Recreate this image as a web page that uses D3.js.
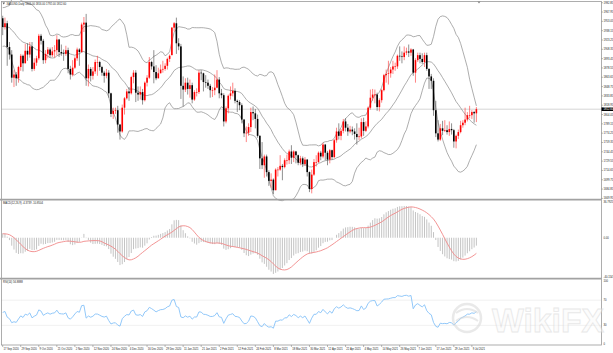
<!DOCTYPE html>
<html>
<head>
<meta charset="utf-8">
<script src="https://cdn.jsdelivr.net/npm/d3@7"></script>
<style>
  body { margin: 0; background: #fff; }
  svg { display: block; font-family: "Liberation Sans", Arial, sans-serif; }
  .lbl { font-size: 2.7px; fill: #222; }
</style>
</head>
<body>
<div id="chart"></div>
<script>
// closes from 1 Jul to 16 Sep 2020, only used to warm up the indicators
const warmupClose = [
  1770, 1775, 1775, 1784, 1795, 1809, 1803, 1798, 1802, 1810, 1807, 1796, 1810, 1818, 1843, 1871, 1888, 1902, 1941, 1957, 1970, 1956, 1975,
  1976, 2019, 2038, 2062, 2035, 2028, 1911, 1915, 1954, 1944, 1985, 2002, 1929, 1946, 1940, 1929, 1907, 1953, 1929, 1964, 1968,
  1970, 1944, 1930, 1934, 1931, 1932, 1946, 1946, 1940, 1957, 1955, 1961
];

// daily bars from 17 Sep 2020 to 13 Jul 2021
const openPrice = [
  1958, 1944, 1950, 1912, 1900, 1863, 1868, 1862, 1880, 1898,
  1886, 1906, 1900, 1913, 1877, 1887, 1894, 1930, 1922, 1891,
  1901, 1908, 1899, 1905, 1907, 1924, 1904, 1902, 1901, 1907,
  1877, 1868, 1879, 1894, 1908, 1904, 1948, 1951, 1862, 1877,
  1866, 1873, 1888, 1888, 1880, 1871, 1866, 1871, 1838, 1805,
  1810, 1811, 1788, 1777, 1815, 1830, 1841, 1838, 1864, 1871,
  1839, 1836, 1840, 1827, 1855, 1863, 1888, 1881, 1872, 1862,
  1870, 1876, 1877, 1882, 1893, 1899, 1943, 1950, 1918, 1913,
  1850, 1844, 1855, 1845, 1851, 1828, 1840, 1840, 1871, 1870,
  1856, 1855, 1850, 1843, 1843, 1847, 1860, 1838, 1835, 1793,
  1814, 1834, 1838, 1842, 1826, 1824, 1819, 1796, 1774, 1775,
  1784, 1808, 1806, 1797, 1770, 1734, 1723, 1737, 1712, 1698,
  1700, 1683, 1716, 1716, 1722, 1720, 1731, 1731, 1745, 1735,
  1745, 1739, 1727, 1734, 1725, 1732, 1712, 1685, 1708, 1728,
  1728, 1743, 1737, 1756, 1743, 1732, 1747, 1736, 1763, 1777,
  1770, 1778, 1793, 1783, 1777, 1780, 1777, 1773, 1768, 1769,
  1792, 1778, 1785, 1815, 1831, 1836, 1836, 1816, 1827, 1843,
  1867, 1869, 1870, 1876, 1881, 1881, 1898, 1897, 1896, 1903,
  1905, 1903, 1908, 1871, 1891, 1899, 1893, 1888, 1899, 1877,
  1865, 1858, 1811, 1774, 1764, 1782, 1778, 1779, 1776, 1781,
  1779, 1761, 1770, 1776, 1787, 1791, 1796, 1803, 1803, 1808, 1806
];
const highPrice = [
  1962, 1959, 1954, 1920, 1907, 1875, 1872, 1882, 1901, 1900,
  1917, 1918, 1920, 1920, 1894, 1898, 1933, 1933, 1925, 1907,
  1912, 1911, 1912, 1915, 1931, 1925, 1916, 1908, 1914, 1911,
  1882, 1891, 1897, 1911, 1910, 1951, 1960, 1965, 1884, 1880,
  1880, 1892, 1898, 1890, 1882, 1874, 1877, 1875, 1839, 1815,
  1815, 1818, 1789, 1820, 1832, 1845, 1848, 1866, 1875, 1875,
  1849, 1849, 1845, 1857, 1867, 1896, 1890, 1907, 1883, 1879,
  1884, 1890, 1886, 1895, 1900, 1944, 1952, 1959, 1926, 1917,
  1865, 1862, 1863, 1860, 1855, 1843, 1846, 1875, 1875, 1871,
  1867, 1860, 1853, 1848, 1868, 1875, 1864, 1845, 1838, 1817,
  1836, 1849, 1855, 1846, 1828, 1827, 1822, 1797, 1785, 1790,
  1815, 1817, 1813, 1804, 1771, 1760, 1740, 1740, 1715, 1710,
  1702, 1718, 1720, 1739, 1725, 1734, 1740, 1748, 1755, 1747,
  1746, 1740, 1738, 1737, 1736, 1733, 1713, 1716, 1733, 1739,
  1745, 1746, 1759, 1757, 1746, 1749, 1748, 1765, 1783, 1790,
  1781, 1797, 1798, 1789, 1786, 1785, 1782, 1790, 1783, 1798,
  1799, 1793, 1817, 1844, 1845, 1844, 1839, 1830, 1845, 1869,
  1876, 1890, 1880, 1890, 1887, 1900, 1913, 1905, 1913, 1911,
  1916, 1910, 1909, 1894, 1903, 1903, 1902, 1903, 1903, 1878,
  1869, 1862, 1826, 1795, 1789, 1794, 1795, 1787, 1793, 1790,
  1781, 1772, 1780, 1794, 1795, 1815, 1808, 1818, 1811, 1810, 1816
];
const lowPrice = [
  1931, 1940, 1882, 1892, 1855, 1848, 1850, 1855, 1874, 1873,
  1886, 1890, 1895, 1873, 1874, 1882, 1891, 1916, 1885, 1886,
  1894, 1895, 1896, 1895, 1899, 1896, 1898, 1890, 1898, 1870,
  1860, 1865, 1877, 1890, 1882, 1903, 1936, 1850, 1849, 1857,
  1860, 1869, 1866, 1874, 1866, 1855, 1862, 1831, 1800, 1797,
  1805, 1775, 1764, 1775, 1804, 1828, 1826, 1836, 1854, 1824,
  1826, 1828, 1820, 1825, 1849, 1861, 1876, 1854, 1859, 1862,
  1870, 1871, 1874, 1876, 1888, 1899, 1937, 1901, 1907, 1829,
  1817, 1840, 1836, 1831, 1822, 1826, 1833, 1837, 1859, 1841,
  1847, 1845, 1831, 1832, 1835, 1846, 1830, 1830, 1785, 1790,
  1806, 1828, 1833, 1822, 1808, 1811, 1790, 1768, 1760, 1770,
  1776, 1795, 1782, 1767, 1717, 1717, 1703, 1705, 1690, 1687,
  1677, 1683, 1705, 1714, 1699, 1718, 1724, 1725, 1725, 1728,
  1726, 1723, 1723, 1720, 1722, 1705, 1680, 1678, 1706, 1721,
  1727, 1731, 1734, 1731, 1723, 1726, 1732, 1734, 1759, 1764,
  1763, 1774, 1777, 1770, 1774, 1771, 1764, 1756, 1763, 1766,
  1770, 1776, 1782, 1812, 1826, 1822, 1810, 1809, 1823, 1841,
  1855, 1852, 1863, 1869, 1874, 1877, 1890, 1886, 1891, 1899,
  1896, 1898, 1866, 1855, 1888, 1886, 1885, 1880, 1874, 1845,
  1845, 1802, 1768, 1761, 1762, 1771, 1776, 1772, 1770, 1772,
  1751, 1750, 1765, 1774, 1783, 1787, 1793, 1798, 1797, 1791, 1792
];
const closePrice = [
  1944, 1950, 1912, 1900, 1863, 1868, 1862, 1880, 1898, 1886,
  1906, 1900, 1913, 1877, 1887, 1894, 1930, 1922, 1891, 1901,
  1908, 1899, 1905, 1907, 1924, 1904, 1902, 1901, 1907, 1877,
  1868, 1879, 1894, 1908, 1904, 1948, 1951, 1862, 1877, 1866,
  1873, 1888, 1888, 1880, 1871, 1866, 1871, 1838, 1805, 1810,
  1811, 1788, 1777, 1815, 1830, 1841, 1838, 1864, 1871, 1839,
  1836, 1840, 1827, 1855, 1863, 1888, 1881, 1872, 1862, 1870,
  1876, 1877, 1882, 1893, 1898, 1943, 1950, 1918, 1913, 1850,
  1844, 1855, 1845, 1851, 1828, 1840, 1840, 1871, 1870, 1856,
  1855, 1850, 1843, 1843, 1847, 1860, 1838, 1835, 1793, 1814,
  1834, 1838, 1842, 1826, 1824, 1819, 1796, 1774, 1775, 1784,
  1808, 1806, 1797, 1770, 1734, 1723, 1737, 1712, 1698, 1700,
  1683, 1716, 1716, 1722, 1720, 1731, 1731, 1745, 1735, 1745,
  1739, 1727, 1734, 1725, 1732, 1712, 1685, 1708, 1728, 1728,
  1743, 1737, 1756, 1743, 1732, 1747, 1736, 1763, 1777, 1770,
  1778, 1793, 1783, 1777, 1780, 1777, 1773, 1768, 1769, 1792,
  1778, 1785, 1815, 1831, 1836, 1836, 1816, 1827, 1843, 1867,
  1869, 1870, 1876, 1881, 1881, 1898, 1897, 1896, 1903, 1905,
  1903, 1908, 1871, 1891, 1899, 1893, 1888, 1899, 1877, 1865,
  1858, 1811, 1774, 1764, 1782, 1778, 1779, 1776, 1781, 1779,
  1761, 1770, 1776, 1787, 1791, 1796, 1803, 1803, 1808, 1806, 1812.6
];

// one date label every 8 bars
const dateLabels = [
  "17 Sep 2020", "29 Sep 2020", "9 Oct 2020", "21 Oct 2020", "2 Nov 2020", "12 Nov 2020", "24 Nov 2020",
  "4 Dec 2020", "16 Dec 2020", "29 Dec 2020", "11 Jan 2021", "21 Jan 2021", "2 Feb 2021", "12 Feb 2021",
  "24 Feb 2021", "8 Mar 2021", "18 Mar 2021", "30 Mar 2021", "12 Apr 2021", "22 Apr 2021", "4 May 2021",
  "14 May 2021", "26 May 2021", "7 Jun 2021", "17 Jun 2021", "29 Jun 2021", "9 Jul 2021"
];
const labelEvery = 8;
const priceLabels = [
  1982.85, 1967.95, 1953.05, 1938.15, 1923.25, 1908.35, 1893.45, 1878.55, 1863.65, 1848.75, 1833.85,
  1818.95, 1804.05, 1789.15, 1774.25, 1759.35, 1744.45, 1729.55, 1714.65, 1699.75, 1684.85, 1669.95
];
const macdLabels = [36.7925, 0, -40.1547];
const rsiLabels = [100, 70, 30, 0];
const rsiLevels = [70, 30];

const titleText = "XAUUSD,Daily  1806.00 1816.00 1792.00 1812.60";
const macdTitle = "MACD(12,26,9) -4.3739 -10.8504";
const rsiTitle = "RSI(14) 56.8888";

// Indicators, computed over warm-up + visible closes
const allClose = warmupClose.concat(closePrice);
const skip = warmupClose.length;

function ema(values, n) {
  const k = 2 / (n + 1);
  const out = [values[0]];
  for (let i = 1; i < values.length; i++) out.push(values[i] * k + out[i - 1] * (1 - k));
  return out;
}

function sma(values, n) {
  return values.map((v, i) => i < n - 1 ? null : d3.mean(values.slice(i - n + 1, i + 1)));
}

const ema12 = ema(allClose, 12);
const ema26 = ema(allClose, 26);
const macdMain = allClose.map((v, i) => ema12[i] - ema26[i]);
const macdSignal = sma(macdMain, 9);

const bandMid = sma(allClose, 20);
const bandDev = allClose.map((v, i) => {
  if (i < 19) return null;
  const win = allClose.slice(i - 19, i + 1);
  const m = bandMid[i];
  return Math.sqrt(d3.sum(win, (w) => (w - m) * (w - m)) / 20);
});
const bandUp = bandMid.map((m, i) => m === null ? null : m + 2 * bandDev[i]);
const bandLow = bandMid.map((m, i) => m === null ? null : m - 2 * bandDev[i]);

const rsi = [];
let avgGain = 0, avgLoss = 0;
for (let i = 1; i < allClose.length; i++) {
  const ch = allClose[i] - allClose[i - 1];
  const g = Math.max(ch, 0), l = Math.max(-ch, 0);
  if (i <= 14) {
    avgGain += g / 14; avgLoss += l / 14;
  } else {
    avgGain = (avgGain * 13 + g) / 14;
    avgLoss = (avgLoss * 13 + l) / 14;
  }
  rsi[i] = avgLoss === 0 ? 100 : 100 - 100 / (1 + avgGain / avgLoss);
}

const bars = closePrice.map((c, i) => ({
  i: i, open: openPrice[i], high: highPrice[i], low: lowPrice[i], close: c,
  up: bandUp[i + skip], mid: bandMid[i + skip], dn: bandLow[i + skip],
  macd: macdMain[i + skip], signal: macdSignal[i + skip], rsi: rsi[i + skip]
}));

// Layout
const width = 613;
const height = 353;
const left = 1.5, right = 601.5;
const mainTop = 1.5, mainBottom = 199;
const macdTop = 200.5, macdBottom = 278;
const rsiTop = 279.5, rsiBottom = 345;
const totalSlots = 266; // visible bars plus the empty shift area

const svg = d3.select("#chart")
  .append("svg")
  .attr("width", width)
  .attr("height", height);

const x = d3.scaleLinear().domain([0, totalSlots]).range([2.7, 602.7]);
const yPrice = d3.scaleLinear().domain([1669, 1984]).range([199, 2]);
const yMacd = d3.scaleLinear().domain([-40.1547, 36.7925]).range([277.2, 201.6]);
const yRsi = d3.scaleLinear().domain([0, 100]).range([344.3, 281.2]);

// Bid line
const lastClose = closePrice[closePrice.length - 1];
svg.append("line")
  .attr("x1", left).attr("x2", right)
  .attr("y1", yPrice(lastClose)).attr("y2", yPrice(lastClose))
  .attr("stroke", "#c4c4c4").attr("stroke-width", 0.7);

// Bollinger bands
["up", "mid", "dn"].forEach((key) => {
  svg.append("path")
    .datum(bars)
    .attr("fill", "none")
    .attr("stroke", "#8a8a8a")
    .attr("stroke-width", 0.7)
    .attr("d", d3.line().x((d) => x(d.i)).y((d) => yPrice(d[key])));
});

// Candles
const candle = svg.append("g").selectAll("g")
  .data(bars)
  .enter()
  .append("g");

candle.append("line")
  .attr("x1", (d) => x(d.i)).attr("x2", (d) => x(d.i))
  .attr("y1", (d) => yPrice(d.high)).attr("y2", (d) => yPrice(d.low))
  .attr("stroke", (d) => d.close >= d.open ? "#ff2020" : "#333")
  .attr("stroke-width", 0.55);

candle.append("rect")
  .attr("x", (d) => x(d.i) - 0.8)
  .attr("width", 1.6)
  .attr("y", (d) => yPrice(Math.max(d.open, d.close)))
  .attr("height", (d) => Math.max(0.6, Math.abs(yPrice(d.open) - yPrice(d.close))))
  .attr("fill", (d) => d.close >= d.open ? "#ff0000" : "#000");

// MACD histogram and signal
svg.append("g").selectAll("line")
  .data(bars)
  .enter()
  .append("line")
  .attr("x1", (d) => x(d.i)).attr("x2", (d) => x(d.i))
  .attr("y1", yMacd(0)).attr("y2", (d) => yMacd(d.macd))
  .attr("stroke", "#bdbdbd")
  .attr("stroke-width", 0.9);

svg.append("path")
  .datum(bars)
  .attr("fill", "none")
  .attr("stroke", "#f08888")
  .attr("stroke-width", 0.9)
  .attr("d", d3.line().x((d) => x(d.i)).y((d) => yMacd(d.signal)));

// RSI levels and line
rsiLevels.forEach((lv) => {
  svg.append("line")
    .attr("x1", left).attr("x2", right)
    .attr("y1", yRsi(lv)).attr("y2", yRsi(lv))
    .attr("stroke", "#cfcfcf").attr("stroke-width", 0.6)
    .attr("stroke-dasharray", "1,1");
});

svg.append("path")
  .datum(bars)
  .attr("fill", "none")
  .attr("stroke", "#86c2f8")
  .attr("stroke-width", 0.9)
  .attr("d", d3.line().x((d) => x(d.i)).y((d) => yRsi(d.rsi)));

// Window frames and separators
svg.append("rect")
  .attr("x", left).attr("y", mainTop)
  .attr("width", right - left).attr("height", rsiBottom - mainTop)
  .attr("fill", "none").attr("stroke", "#9a9a9a").attr("stroke-width", 0.8);

[mainBottom + 0.7, macdBottom + 0.7].forEach((yy) => {
  svg.append("line")
    .attr("x1", 0).attr("x2", right)
    .attr("y1", yy).attr("y2", yy)
    .attr("stroke", "#a2a2a2").attr("stroke-width", 1.8);
});

// Price scale
const axisR = svg.append("g").attr("class", "lbl");
priceLabels.forEach((p) => {
  axisR.append("line")
    .attr("x1", right).attr("x2", right + 1.5)
    .attr("y1", yPrice(p)).attr("y2", yPrice(p))
    .attr("stroke", "#777").attr("stroke-width", 0.5);
  axisR.append("text")
    .attr("x", right + 2)
    .attr("y", yPrice(p) + 1)
    .text(p.toFixed(2));
});

axisR.append("rect")
  .attr("x", right).attr("y", yPrice(lastClose) - 1.8)
  .attr("width", width - right).attr("height", 3.6)
  .attr("fill", "#000");
axisR.append("text")
  .attr("x", right + 2)
  .attr("y", yPrice(lastClose) + 1)
  .attr("fill", "#fff")
  .style("fill", "#fff")
  .text(lastClose.toFixed(2));

macdLabels.forEach((v, k) => {
  axisR.append("text")
    .attr("x", right + 2)
    .attr("y", yMacd(v) + (k === 0 ? 1.6 : 1))
    .text(v === 0 ? "0.00" : v.toFixed(4));
});

rsiLabels.forEach((v) => {
  axisR.append("text")
    .attr("x", right + 2)
    .attr("y", yRsi(v) + 1)
    .text(v);
});

// Date scale
const axisB = svg.append("g").attr("class", "lbl");
dateLabels.forEach((t, k) => {
  const xx = x(k * labelEvery);
  axisB.append("line")
    .attr("x1", xx).attr("x2", xx)
    .attr("y1", rsiBottom).attr("y2", rsiBottom + 2)
    .attr("stroke", "#777").attr("stroke-width", 0.5);
  axisB.append("text")
    .attr("x", xx + 0.8)
    .attr("y", rsiBottom + 4.6)
    .text(t);
});

// Window titles
svg.append("path")
  .attr("d", "M2.5,2.6 L5,2.6 L3.75,4.4 Z")
  .attr("fill", "#555");
svg.append("text").attr("class", "lbl").attr("x", 6.5).attr("y", 4.6).text(titleText);
svg.append("text").attr("class", "lbl").attr("x", 3).attr("y", 203.8).text(macdTitle);
svg.append("text").attr("class", "lbl").attr("x", 3).attr("y", 282.8).text(rsiTitle);

// chart shift marker
svg.append("path")
  .attr("d", "M477.5,1.5 L480.5,1.5 L479,3.5 Z")
  .attr("fill", "#888");

// Watermark
const wm = svg.append("g").attr("opacity", 0.55);
wm.append("circle")
  .attr("cx", 467).attr("cy", 318).attr("r", 14)
  .attr("fill", "none").attr("stroke", "#d8d8d8").attr("stroke-width", 2.5);
wm.append("path")
  .attr("d", "M456,313 Q467,305 478,313 M456,321 Q467,313 478,321")
  .attr("fill", "none").attr("stroke", "#d8d8d8").attr("stroke-width", 2);
wm.append("text")
  .attr("x", 492).attr("y", 332)
  .attr("font-size", 34).attr("font-weight", "bold")
  .attr("textLength", 112).attr("lengthAdjust", "spacingAndGlyphs")
  .attr("fill", "#fafafa").attr("stroke", "#d6d6d6").attr("stroke-width", 0.9)
  .text("WikiFX");
</script>
</body>
</html>
